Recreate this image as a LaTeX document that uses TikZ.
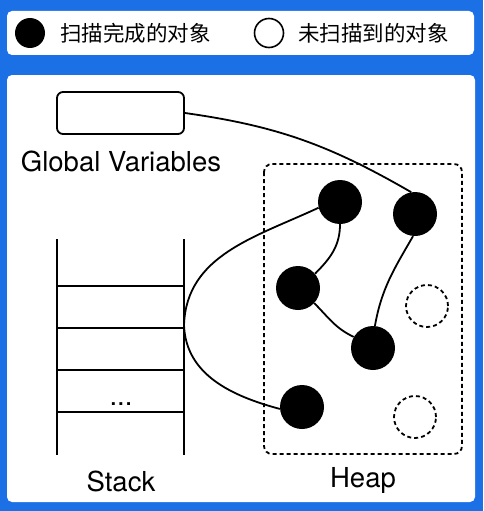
\documentclass[tikz,border=0pt]{standalone}
\usepackage{fontspec}
\setmainfont{TeX Gyre Heros}
\newfontfamily\cjk{Noto Sans CJK SC}
\definecolor{bgblue}{RGB}{28,112,230}

\tikzset{
  panel/.style={fill=white, rounded corners=5pt},
  doneobj/.style={circle, fill=black, minimum size=44pt, inner sep=0pt},
  todoobj/.style={circle, draw, line width=1.8pt, dash pattern=on 4pt off 3pt, minimum size=42pt, inner sep=0pt},
  legdone/.style={circle, fill=black, minimum size=30pt, inner sep=0pt},
  legtodo/.style={circle, draw, line width=1.6pt, minimum size=29pt, inner sep=0pt},
  legtext/.style={anchor=west, inner sep=0pt, font=\cjk\fontsize{21.5}{24}\selectfont},
  areatext/.style={anchor=base, inner sep=0pt, font=\fontsize{27.5}{30}\selectfont},
  gvbox/.style={draw, line width=1.8pt, rounded corners=6pt, minimum width=127pt, minimum height=42pt},
  heapbox/.style={line width=1.8pt, dash pattern=on 4pt off 3pt, rounded corners=8pt},
  stackline/.style={line width=1.8pt},
  gcref/.style={line width=1.8pt}
}

\begin{document}
\begin{tikzpicture}[x=1pt, y=-1pt]
\fill[bgblue] (0,0) rectangle (483,511);
\useasboundingbox (0,0) rectangle (483,511);

% legend
\fill[panel] (7,11) rectangle (474,55);
\node[legdone] (ldone) at (30,33) {};
\node[legtext] (ldonetxt) at (60,33) {扫描完成的对象};
\node[legtodo] (ltodo) at (269,33) {};
\node[legtext] (ltodotxt) at (298,33) {未扫描到的对象};

% main panel
\fill[panel] (7,75) rectangle (475,502);

% global variables
\node[gvbox] (gv) at (120.5,113) {};
\node[areatext] (gvtxt) at (121,171) {Global Variables};

% stack
\draw[stackline] (57,239) -- (57,455);
\draw[stackline] (184,239) -- (184,455);
\draw[stackline] (57,286) -- (184,286);
\draw[stackline] (57,328) -- (184,328);
\draw[stackline] (57,370) -- (184,370);
\draw[stackline] (57,412) -- (184,412);
\node[areatext] (dots) at (121,405) {...};
\node[areatext] (stacktxt) at (121,491) {Stack};
\coordinate (sref) at (184,325);

% heap
\draw[heapbox] (264,164) rectangle (462,454);
\node[areatext] (heaptxt) at (363,487) {Heap};

\node[doneobj] (h1) at (340,202) {};
\node[doneobj] (h2) at (415,214) {};
\node[doneobj] (h3) at (298,288) {};
\node[doneobj] (h4) at (373,348) {};
\node[doneobj] (h5) at (302,407) {};
\node[todoobj] (h6) at (427,306) {};
\node[todoobj] (h7) at (415,417) {};

% references
\draw[gcref] (gv.east) to[out=-8, in=150] (h2.100);
\draw[gcref] (sref) to[out=88, in=205] (h1.195);
\draw[gcref] (sref) to[out=-88, in=165] (h5.185);
\draw[gcref] (h1.south) to[out=-90, in=45] (h3.40);
\draw[gcref] (h3.-43) to[out=-45, in=155] (h4.150);
\draw[gcref] (h2.-95) to[out=-120, in=80] (h4.85);
\end{tikzpicture}
\end{document}
